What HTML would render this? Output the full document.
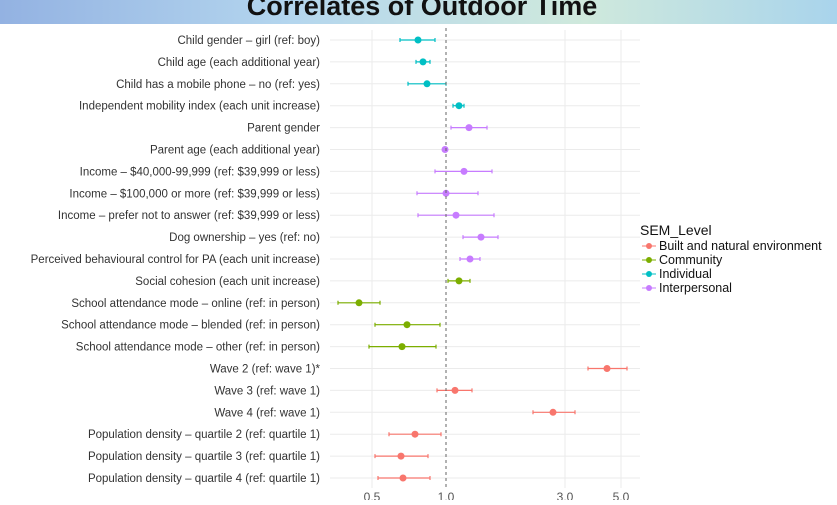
<!DOCTYPE html>
<html><head><style>
body{margin:0;width:837px;height:500px;overflow:hidden;background:#fff;font-family:"Liberation Sans",sans-serif}
</style></head><body>
<svg width="837" height="500" xmlns="http://www.w3.org/2000/svg" font-family="Liberation Sans, sans-serif">
<defs><linearGradient id="g" x1="0" x2="1"><stop offset="0" stop-color="#93b2e2"/><stop offset="0.35" stop-color="#b4d6ee"/><stop offset="0.7" stop-color="#cfe9dc"/><stop offset="1" stop-color="#a9d4ec"/></linearGradient></defs>
<rect x="0" y="0" width="837" height="24" fill="url(#g)"/>
<text x="422" y="15" font-size="27" font-weight="bold" text-anchor="middle" fill="#111">Correlates of Outdoor Time</text>
<g stroke="#ebebeb" stroke-width="1">
<line x1="372" y1="30" x2="372" y2="488"/><line x1="565" y1="30" x2="565" y2="488"/><line x1="621" y1="30" x2="621" y2="488"/>
</g>
<g font-size="11.5" fill="#333" text-anchor="end">
<text x="320" y="44">Child gender – girl (ref: boy)</text>
<text x="320" y="65.9">Child age (each additional year)</text>
<text x="320" y="87.8">Child has a mobile phone – no (ref: yes)</text>
<text x="320" y="109.7">Independent mobility index (each unit increase)</text>
<text x="320" y="131.6">Parent gender</text>
<text x="320" y="153.5">Parent age (each additional year)</text>
<text x="320" y="175.4">Income – $40,000-99,999 (ref: $39,999 or less)</text>
<text x="320" y="197.3">Income – $100,000 or more (ref: $39,999 or less)</text>
<text x="320" y="219.2">Income – prefer not to answer (ref: $39,999 or less)</text>
<text x="320" y="241.1">Dog ownership – yes (ref: no)</text>
<text x="320" y="263">Perceived behavioural control for PA (each unit increase)</text>
<text x="320" y="284.9">Social cohesion (each unit increase)</text>
<text x="320" y="306.8">School attendance mode – online (ref: in person)</text>
<text x="320" y="328.7">School attendance mode – blended (ref: in person)</text>
<text x="320" y="350.6">School attendance mode – other (ref: in person)</text>
<text x="320" y="372.5">Wave 2 (ref: wave 1)*</text>
<text x="320" y="394.4">Wave 3 (ref: wave 1)</text>
<text x="320" y="416.3">Wave 4 (ref: wave 1)</text>
<text x="320" y="438.2">Population density – quartile 2 (ref: quartile 1)</text>
<text x="320" y="460.1">Population density – quartile 3 (ref: quartile 1)</text>
<text x="320" y="482">Population density – quartile 4 (ref: quartile 1)</text>
</g>
<g stroke="#ebebeb">
<line x1="330" y1="40" x2="640" y2="40"/><line x1="330" y1="61.9" x2="640" y2="61.9"/><line x1="330" y1="83.8" x2="640" y2="83.8"/><line x1="330" y1="105.7" x2="640" y2="105.7"/><line x1="330" y1="127.6" x2="640" y2="127.6"/><line x1="330" y1="149.5" x2="640" y2="149.5"/><line x1="330" y1="171.4" x2="640" y2="171.4"/><line x1="330" y1="193.3" x2="640" y2="193.3"/><line x1="330" y1="215.2" x2="640" y2="215.2"/><line x1="330" y1="237.1" x2="640" y2="237.1"/><line x1="330" y1="259" x2="640" y2="259"/><line x1="330" y1="280.9" x2="640" y2="280.9"/><line x1="330" y1="302.8" x2="640" y2="302.8"/><line x1="330" y1="324.7" x2="640" y2="324.7"/><line x1="330" y1="346.6" x2="640" y2="346.6"/><line x1="330" y1="368.5" x2="640" y2="368.5"/><line x1="330" y1="390.4" x2="640" y2="390.4"/><line x1="330" y1="412.3" x2="640" y2="412.3"/><line x1="330" y1="434.2" x2="640" y2="434.2"/><line x1="330" y1="456.1" x2="640" y2="456.1"/><line x1="330" y1="478" x2="640" y2="478"/>
</g>
<g stroke="#00BFC4" fill="#00BFC4" stroke-width="1.2">
<path d="M400 40H435M400 38V42M435 38V42" fill="none"/><circle cx="418" cy="40" r="3.5" stroke="none"/>
<path d="M416 61.9H430M416 59.9V63.9M430 59.9V63.9" fill="none"/><circle cx="423" cy="61.9" r="3.5" stroke="none"/>
<path d="M408 83.8H446M408 81.8V85.8M446 81.8V85.8" fill="none"/><circle cx="427" cy="83.8" r="3.5" stroke="none"/>
<path d="M453 105.7H464M453 103.7V107.7M464 103.7V107.7" fill="none"/><circle cx="459" cy="105.7" r="3.5" stroke="none"/>
</g>
<g stroke="#C77CFF" fill="#C77CFF" stroke-width="1.2">
<path d="M451 127.6H487M451 125.6V129.6M487 125.6V129.6" fill="none"/><circle cx="469" cy="127.6" r="3.5" stroke="none"/>
<path d="M443 149.5H447" fill="none"/><circle cx="445" cy="149.5" r="3.5" stroke="none"/>
<path d="M435 171.4H492M435 169.4V173.4M492 169.4V173.4" fill="none"/><circle cx="464" cy="171.4" r="3.5" stroke="none"/>
<path d="M417 193.3H478M417 191.3V195.3M478 191.3V195.3" fill="none"/><circle cx="446" cy="193.3" r="3.5" stroke="none"/>
<path d="M418 215.2H494M418 213.2V217.2M494 213.2V217.2" fill="none"/><circle cx="456" cy="215.2" r="3.5" stroke="none"/>
<path d="M463 237.1H498M463 235.1V239.1M498 235.1V239.1" fill="none"/><circle cx="481" cy="237.1" r="3.5" stroke="none"/>
<path d="M460 259H480M460 257V261M480 257V261" fill="none"/><circle cx="470" cy="259" r="3.5" stroke="none"/>
</g>
<g stroke="#7CAE00" fill="#7CAE00" stroke-width="1.2">
<path d="M448 280.9H470M448 278.9V282.9M470 278.9V282.9" fill="none"/><circle cx="459" cy="280.9" r="3.5" stroke="none"/>
<path d="M338 302.8H380M338 300.8V304.8M380 300.8V304.8" fill="none"/><circle cx="359" cy="302.8" r="3.5" stroke="none"/>
<path d="M375 324.7H440M375 322.7V326.7M440 322.7V326.7" fill="none"/><circle cx="407" cy="324.7" r="3.5" stroke="none"/>
<path d="M369 346.6H436M369 344.6V348.6M436 344.6V348.6" fill="none"/><circle cx="402" cy="346.6" r="3.5" stroke="none"/>
</g>
<g stroke="#F8766D" fill="#F8766D" stroke-width="1.2">
<path d="M588 368.5H627M588 366.5V370.5M627 366.5V370.5" fill="none"/><circle cx="607" cy="368.5" r="3.5" stroke="none"/>
<path d="M437 390.4H472M437 388.4V392.4M472 388.4V392.4" fill="none"/><circle cx="455" cy="390.4" r="3.5" stroke="none"/>
<path d="M533 412.3H575M533 410.3V414.3M575 410.3V414.3" fill="none"/><circle cx="553" cy="412.3" r="3.5" stroke="none"/>
<path d="M389 434.2H441M389 432.2V436.2M441 432.2V436.2" fill="none"/><circle cx="415" cy="434.2" r="3.5" stroke="none"/>
<path d="M375 456.1H428M375 454.1V458.1M428 454.1V458.1" fill="none"/><circle cx="401" cy="456.1" r="3.5" stroke="none"/>
<path d="M378 478H430M378 476V480M430 476V480" fill="none"/><circle cx="403" cy="478" r="3.5" stroke="none"/>
</g>
<line x1="446" y1="28" x2="446" y2="490" stroke="#666" stroke-dasharray="3,3" stroke-width="1"/>
<g font-size="12" fill="#555" text-anchor="middle">
<text x="372" y="501">0.5</text><text x="446" y="501">1.0</text><text x="565" y="501">3.0</text><text x="621" y="501">5.0</text>
</g>
<g fill="#111">
<text x="640" y="235" font-size="14">SEM_Level</text>
<circle cx="649" cy="246" r="3" fill="#F8766D"/><line x1="642" y1="246" x2="656" y2="246" stroke="#F8766D"/><text x="659" y="250" font-size="12.5">Built and natural environment</text>
<circle cx="649" cy="260" r="3" fill="#7CAE00"/><line x1="642" y1="260" x2="656" y2="260" stroke="#7CAE00"/><text x="659" y="264" font-size="12.5">Community</text>
<circle cx="649" cy="274" r="3" fill="#00BFC4"/><line x1="642" y1="274" x2="656" y2="274" stroke="#00BFC4"/><text x="659" y="278" font-size="12.5">Individual</text>
<circle cx="649" cy="288" r="3" fill="#C77CFF"/><line x1="642" y1="288" x2="656" y2="288" stroke="#C77CFF"/><text x="659" y="292" font-size="12.5">Interpersonal</text>
</g>
</svg>
</body></html>
